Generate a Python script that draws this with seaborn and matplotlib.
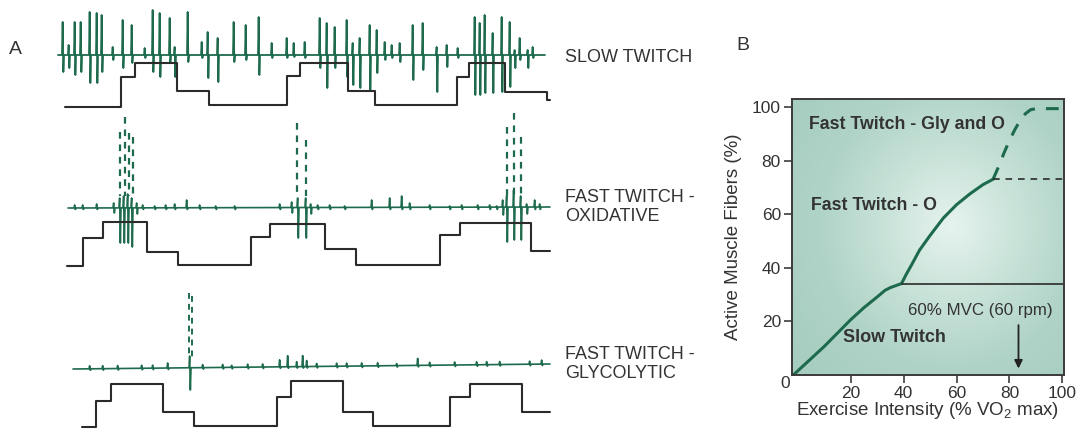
import numpy as np
import pandas as pd
import matplotlib
matplotlib.use("Agg")
import matplotlib.pyplot as plt
from matplotlib.colors import LinearSegmentedColormap
import seaborn as sns

# ---------------- DATA ----------------
# Panel A: EMG recordings (image pixel coordinates: x to the right, y downward)
slow_spike_x = [63, 69, 75, 81, 90, 97, 102, 113, 123, 132, 145, 153, 160, 170, 175, 188, 202, 208, 218, 234,
                246, 259, 272, 287, 294, 305, 320, 327, 335, 347, 353, 360, 370, 377, 385, 392, 400, 413, 423, 437,
                447, 458, 475, 480, 485, 493, 502, 510, 515, 520, 528, 533]
slow_spike_top = [22, 45, 22, 22, 12, 13, 15, 47, 20, 25, 48, 10, 13, 18, 47, 12, 42, 32, 38, 22,
                  25, 17, 43, 38, 43, 42, 18, 23, 27, 20, 43, 38, 25, 30, 42, 45, 43, 25, 23, 47,
                  45, 48, 17, 23, 15, 33, 17, 22, 50, 38, 50, 47]
slow_spike_bot = [72, 68, 75, 72, 83, 83, 72, 60, 68, 63, 58, 72, 77, 62, 77, 62, 58, 78, 82, 62,
                  60, 75, 58, 58, 57, 58, 68, 88, 68, 77, 85, 88, 90, 73, 60, 58, 62, 80, 70, 92,
                  67, 58, 95, 95, 93, 93, 92, 87, 68, 60, 68, 58]
slow_step_x = [65, 121, 135, 177, 209, 287, 300, 348, 375, 457, 469, 505, 547, 550]
slow_step_y = [107, 77, 63, 91, 105, 76, 63, 91, 105, 77, 63, 92, 100]

fo_dash_x = [120, 125, 129, 133, 297, 306, 507, 514, 521]
fo_dash_top = [132, 117, 133, 137, 123, 140, 127, 113, 137]
fo_spike_x = [114, 120, 124, 128, 132, 137, 292, 298, 306, 311, 503, 507, 514, 521, 527]
fo_spike_top = [203, 198, 196, 194, 198, 203, 202, 198, 198, 204, 200, 196, 190, 196, 204]
fo_spike_bot = [213, 243, 243, 243, 247, 214, 213, 238, 238, 214, 215, 242, 240, 240, 214]
fo_blip_x = [75, 83, 97, 143, 155, 166, 175, 187, 200, 216, 235, 280, 318, 330, 345, 372, 390, 402,
             410, 430, 450, 462, 478, 490, 497, 535, 540]
fo_blip_h = [3, 3, 4, 3, 2, 3, 4, 8, 3, 2, 2, 4, 3, 3, 2, 8, 10, 12, 5, 3, 2, 3, 3, 3, 2, 8, 4]
fo_step_x = [67, 83, 103, 147, 178, 251, 270, 325, 356, 440, 460, 531, 550]
fo_step_y = [266, 238, 222, 252, 265, 237, 224, 249, 265, 235, 223, 251]

fg_dash_x = [189, 192]
fg_dash_top = [293, 296]
fg_spike_x = [190]
fg_spike_top = [356]
fg_spike_bot = [390]
fg_blip_x = [90, 103, 118, 142, 153, 168, 203, 223, 232, 248, 263, 280, 288, 297, 303, 307, 317, 337,
             347, 362, 378, 397, 418, 430, 455, 477, 487, 500, 530, 542]
fg_blip_h = [3, 3, 3, 3, 3, 5, 3, 3, 2, 3, 3, 7, 11, 5, 11, 6, 3, 3, 3, 3, 3, 2, 7, 3, 3, 3, 3, 3, 3, 4]
fg_step_x = [82, 96, 111, 163, 194, 277, 291, 343, 373, 450, 470, 522, 550]
fg_step_y = [427, 401, 384, 412, 426, 397, 381, 412, 426, 397, 384, 412]

trace_labels = ["SLOW TWITCH", "FAST TWITCH -\nOXIDATIVE", "FAST TWITCH -\nGLYCOLYTIC"]

# Panel B: recruitment curve
slow_x = [-1.5, 10, 20, 25, 30, 33, 35, 39.2]
slow_y = [0, 10.5, 20.5, 25, 29, 31.5, 32.5, 34]
fo_x = [39.2, 41, 43, 46, 50, 55, 60, 65, 70, 73.8]
fo_y = [34, 37.5, 41, 46.5, 52, 58.5, 63.5, 67.5, 71, 73]
gly_x = [73.8, 76, 78, 80, 82, 84, 86, 88, 90, 100]
gly_y = [73, 78, 83, 87.5, 91.5, 95, 97.5, 99, 99.4, 99.4]
slow_plateau = 34
fo_plateau = 73
mvc_x = 83.4
xticks_b = [20, 40, 60, 80, 100]
yticks_b = [20, 40, 60, 80, 100]

# ---------------- STYLE ----------------
sns.set_theme(style="white")
plt.rcParams["font.family"] = ["Liberation Sans", "DejaVu Sans"]
plt.rcParams["mathtext.default"] = "regular"

GREEN = "#1d6b4c"
DARK = "#2b2b2b"
TXT = "#333333"

fig = plt.figure(figsize=(10.76, 4.3), dpi=100)
fig.patch.set_facecolor("white")

# Panel A in image-pixel coordinates
axA = fig.add_axes([0, 0, 1, 1])
axA.set_xlim(0, 1076)
axA.set_ylim(430, 0)
axA.axis("off")


def emg_path(x0, x1, b0, b1, xs, tops, bots):
    px, py = [x0], [b0]
    for x, t, b in sorted(zip(xs, tops, bots)):
        base = np.interp(x, [x0, x1], [b0, b1])
        px += [x - 1.0, x - 0.35, x + 0.35, x + 1.0]
        py += [base, t, b, base]
    px.append(x1)
    py.append(b1)
    return pd.DataFrame({"x": px, "y": py})


def steps(xe, levels):
    return pd.DataFrame({"x": xe, "y": list(levels) + [levels[-1]]})


# Slow twitch
d = emg_path(58, 545, 55, 55, slow_spike_x, slow_spike_top, slow_spike_bot)
sns.lineplot(data=d, x="x", y="y", ax=axA, sort=False, estimator=None, color=GREEN, lw=1.3)
sns.lineplot(data=steps(slow_step_x, slow_step_y), x="x", y="y", ax=axA, sort=False, estimator=None,
             color=DARK, lw=1.5, drawstyle="steps-post")

# Fast twitch oxidative
bx = fo_spike_x + fo_blip_x
bt = fo_spike_top + [208 - h for h in fo_blip_h]
bb = fo_spike_bot + [209.5] * len(fo_blip_x)
d = emg_path(68, 550, 208, 207, bx, bt, bb)
sns.lineplot(data=d, x="x", y="y", ax=axA, sort=False, estimator=None, color=GREEN, lw=1.2)
axA.vlines(fo_dash_x, fo_dash_top, [196] * len(fo_dash_x), colors=GREEN, lw=1.6,
           linestyles=(0, (3, 2.6)))
sns.lineplot(data=steps(fo_step_x, fo_step_y), x="x", y="y", ax=axA, sort=False, estimator=None,
             color=DARK, lw=1.5, drawstyle="steps-post")

# Fast twitch glycolytic
bx = fg_spike_x + fg_blip_x
bt = fg_spike_top + [np.interp(x, [73, 550], [369, 364]) - h for x, h in zip(fg_blip_x, fg_blip_h)]
bb = fg_spike_bot + [np.interp(x, [73, 550], [369, 364]) + 1.5 for x in fg_blip_x]
d = emg_path(73, 550, 369, 364, bx, bt, bb)
sns.lineplot(data=d, x="x", y="y", ax=axA, sort=False, estimator=None, color=GREEN, lw=1.2)
axA.vlines(fg_dash_x, fg_dash_top, [358] * len(fg_dash_x), colors=GREEN, lw=1.4,
           linestyles=(0, (3, 2.6)))
sns.lineplot(data=steps(fg_step_x, fg_step_y), x="x", y="y", ax=axA, sort=False, estimator=None,
             color=DARK, lw=1.5, drawstyle="steps-post")

for lab, yy in zip(trace_labels, [57, 207, 364]):
    axA.text(565, yy, lab, fontsize=13, color=TXT, ha="left", va="center", linespacing=1.15)

axA.text(9, 50, "A", fontsize=14, color=TXT, ha="left", va="center")
axA.text(736, 45, "B", fontsize=14, color=TXT, ha="left", va="center")

# ---------------- Panel B ----------------
axB = fig.add_axes([792 / 1076, (430 - 374.5) / 430, 272 / 1076, 275.5 / 430])
xl, yl = (-2.2, 100.6), (0, 103)
gx, gy = np.meshgrid(np.linspace(*xl, 300), np.linspace(*yl, 300))
r = np.sqrt(((gx - 58) / 75) ** 2 + ((gy - 55) / 80) ** 2)
cmap = LinearSegmentedColormap.from_list("bg", ["#e6f3ee", "#c9e3d9", "#b0d3c7", "#a6cdc0"])
axB.imshow(np.clip(r, 0, 1), extent=(*xl, *yl), origin="lower", aspect="auto", cmap=cmap,
           vmin=0, vmax=1, zorder=0, interpolation="bilinear")

sns.lineplot(x=slow_x, y=slow_y, ax=axB, sort=False, estimator=None, color=GREEN, lw=2.2)
sns.lineplot(x=fo_x, y=fo_y, ax=axB, sort=False, estimator=None, color=GREEN, lw=2.2)
sns.lineplot(x=gly_x, y=gly_y, ax=axB, sort=False, estimator=None, color=GREEN, lw=2.2,
             dashes=False, linestyle=(0, (4.2, 3.6)))
axB.plot([39.2, 100.6], [slow_plateau, slow_plateau], color=DARK, lw=1.2)
axB.plot([73.8, 100.6], [fo_plateau, fo_plateau], color=DARK, lw=1.2, linestyle=(0, (4, 3.5)))

axB.annotate("", xy=(mvc_x, 1.2), xytext=(mvc_x, 19.5),
             arrowprops=dict(arrowstyle="-|>", color="#222222", lw=1.3, mutation_scale=12))

axB.text(4.3, 93.3, "Fast Twitch - Gly and O", fontsize=12.8, fontweight="bold", color=TXT,
         ha="left", va="center")
axB.text(5.0, 63.0, "Fast Twitch - O", fontsize=12.8, fontweight="bold", color=TXT,
         ha="left", va="center")
axB.text(36.4, 14.0, "Slow Twitch", fontsize=13, fontweight="bold", color=TXT,
         ha="center", va="center")
axB.text(69, 24.1, "60% MVC (60 rpm)", fontsize=12.2, color=TXT, ha="center", va="center")

axB.set_xlim(*xl)
axB.set_ylim(*yl)
axB.set_xticks(xticks_b)
axB.set_yticks(yticks_b)
axB.tick_params(axis="both", direction="out", length=6, width=1.1, color=DARK,
                labelsize=12.5, labelcolor=TXT, pad=2, left=True, bottom=True)
axB.text(-4.9, -3.4, "0", fontsize=12.5, color=TXT, ha="center", va="center", clip_on=False)
for s in axB.spines.values():
    s.set_visible(True)
    s.set_color("#3a3a3a")
    s.set_linewidth(1.4)

axB.set_xlabel(r"Exercise Intensity (% VO$_{2}$ max)", fontsize=13.5, color=TXT)
axB.set_ylabel("Active Muscle Fibers (%)", fontsize=13.5, color=TXT)
axB.xaxis.set_label_coords(0.5, -0.13)
axB.xaxis.label.set_va("center")
axB.yaxis.set_label_coords(-0.215, 0.5)
axB.yaxis.label.set_va("center")

fig.savefig("out.png", dpi=100, facecolor="white")
